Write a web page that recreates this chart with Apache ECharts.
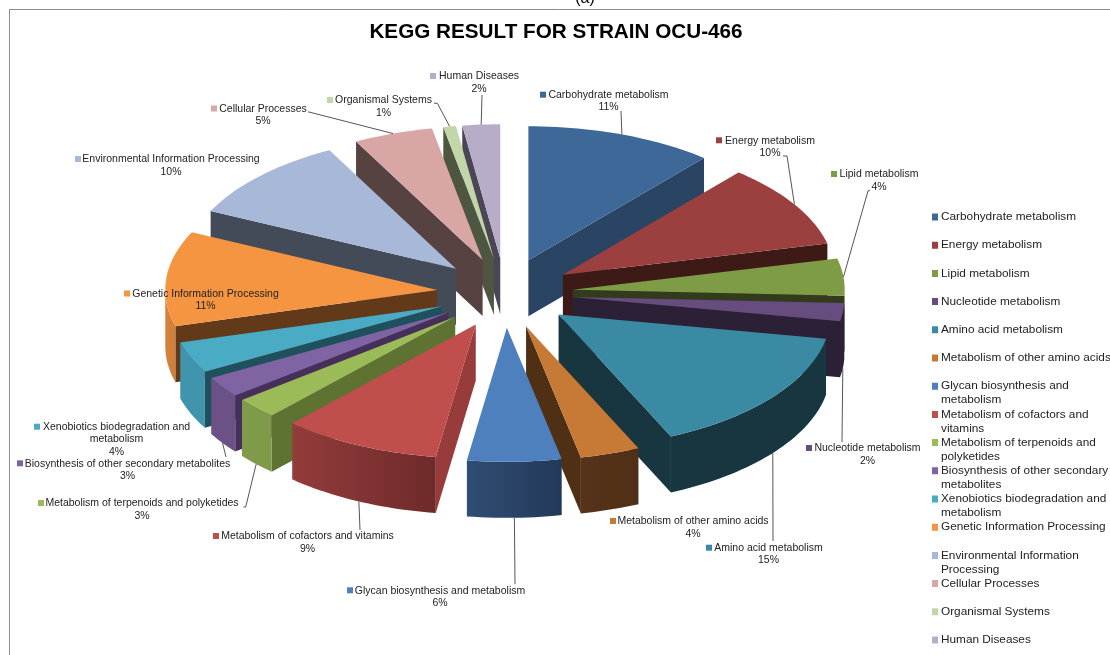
<!DOCTYPE html>
<html><head><meta charset="utf-8">
<style>html,body{margin:0;padding:0;background:#fff;overflow:hidden}#c{width:1110px;height:655px}</style>
<script src="https://cdn.jsdelivr.net/npm/echarts@6/dist/echarts.min.js"></script>
</head><body><div id="c"></div>
<script>
const categories = ['Carbohydrate metabolism','Energy metabolism','Lipid metabolism','Nucleotide metabolism','Amino acid metabolism','Metabolism of other amino acids','Glycan biosynthesis and metabolism','Metabolism of cofactors and vitamins','Metabolism of terpenoids and polyketides','Biosynthesis of other secondary metabolites','Xenobiotics biodegradation and metabolism','Genetic Information Processing','Environmental Information Processing','Cellular Processes','Organismal Systems','Human Diseases'];
// shares; the printed labels are these values rounded
const percents = [11.17,10.08,4.47,2.19,15.31,3.55,5.58,9.44,2.55,2.53,3.78,11.45,10.2,4.72,0.75,2.23];

const topColors = ['#3e6898','#9b403e','#7e9b45','#664c7f','#3a8aa3','#c67a35','#4e80bd','#bf4e4c','#9bbb59','#8063a2','#4aabc5','#f59542','#a8b8d8','#d8a6a5','#c3d6a9','#b8adc9'];
const cutColors = ['#2a4464','#3e1a17','#323b1b','#2b2036','#17363f','#503015','#243a5a','#983c3b','#5e7332','#46305a','#1f505e','#633a19','#444b58','#564240','#4e5641','#4b4655'];
// outer wall gradient, screen left to screen right
const arcColors = [['#2a4464','#2a4464'],['#3e1a17','#3e1a17'],['#323b1b','#323b1b'],['#2b2036','#2b2036'],['#17363f','#17363f'],['#56331a','#4f2f15'],['#2f4d75','#233958'],['#923c3b','#6f2a2a'],['#7f9a48','#7f9a48'],['#6b5186','#6b5186'],['#4094ac','#4094ac'],['#d4823c','#cf7f3a'],['#444b58','#444b58'],['#564240','#564240'],['#4e5641','#4e5641'],['#4b4655','#4b4655']];

const legendLines = ['Carbohydrate metabolism','Energy metabolism','Lipid metabolism','Nucleotide metabolism','Amino acid metabolism','Metabolism of other amino acids','Glycan biosynthesis and\nmetabolism','Metabolism of cofactors and\nvitamins','Metabolism of terpenoids and\npolyketides','Biosynthesis of other secondary\nmetabolites','Xenobiotics biodegradation and\nmetabolism','Genetic Information Processing','Environmental Information\nProcessing','Cellular Processes','Organismal Systems','Human Diseases'];

// label layout: text centre x, first line y, marker x, leader route (pixels, from label to slice), leader attaches to wall bottom?
const labelLayout = [
 {cx:608.5,y:94.7,mx:540,route:[[621,111]],bottom:false},
 {cx:770,y:140.3,mx:716,route:[[783,156],[787,156]],bottom:false},
 {cx:879,y:174,mx:831,route:[[870,190],[868,191]],bottom:false},
 {cx:867.5,y:448,mx:806,route:[[842,442]],bottom:true},
 {cx:768.5,y:547.7,mx:706,route:[[773,541]],bottom:true},
 {cx:693,y:521,mx:610,route:null},
 {cx:440,y:590.3,mx:347,route:[[515,584]],bottom:true},
 {cx:307.5,y:536,mx:213,route:[[360,530]],bottom:true},
 {cx:142,y:503,mx:38,route:[[243.5,507],[245.7,507]],bottom:true},
 {cx:127.5,y:463.3,mx:17,route:[[226,457]],bottom:true},
 {cx:116.5,y:426.7,mx:34,route:null,wrap:'Xenobiotics biodegradation and\nmetabolism'},
 {cx:205.5,y:293.5,mx:124,route:null},
 {cx:171,y:159,mx:75,route:null},
 {cx:263,y:108.5,mx:211,route:[[308,112],[309,112]],bottom:false},
 {cx:383.5,y:100,mx:327,route:[[434,103],[437.5,103.5]],bottom:false},
 {cx:479,y:76,mx:430,route:[[482,95]],bottom:false}
];

const PLANE = {left:97,top:25,width:816,height:536,xMax:1.5,yMax:2};
const EXPLODE_X = 0.25, EXPLODE_Y = 0.26, DEPTH = 0.418;

const total = percents.reduce((a,b)=>a+b,0);
const spans = []; { let c=0; percents.forEach(v=>{ spans.push([c/total*360,(c+v)/total*360]); c+=v; }); }
const rad = d=>d*Math.PI/180;
const midOf = s=>(s[0]+s[1])/2;
const planePoint = (mid,theta,r)=>[EXPLODE_X*Math.sin(rad(mid))+r*Math.sin(rad(theta)), EXPLODE_Y*Math.cos(rad(mid))+r*Math.cos(rad(theta))];

function wall(api,a,b,fill){
  const pa=api.coord(a),pb=api.coord(b),qb=api.coord([b[0],b[1]-DEPTH]),qa=api.coord([a[0],a[1]-DEPTH]);
  return {type:'polygon',shape:{points:[pa,pb,qb,qa]},style:{fill}};
}
function sliceRenderer(i){
  return function(params,api){
    const t0=api.value(0),t1=api.value(1),mid=(t0+t1)/2;
    const tip=planePoint(mid,t0,0);
    const arc=[],ths=[]; const n=Math.max(2,Math.ceil((t1-t0)/1.5));
    for(let k=0;k<=n;k++){ const th=t0+(t1-t0)*k/n; ths.push(th); arc.push(planePoint(mid,th,1)); }
    const children=[];
    const first=arc[0],last=arc[arc.length-1];
    if(first[0]<tip[0]-1e-6) children.push(wall(api,tip,first,cutColors[i]));
    if(last[0]>tip[0]+1e-6) children.push(wall(api,last,tip,cutColors[i]));
    const visible=arc.filter((p,k)=>ths[k]>=90&&ths[k]<=270);
    if(visible.length>1){
      const pts=visible.map(p=>api.coord(p)).concat(visible.slice().reverse().map(p=>api.coord([p[0],p[1]-DEPTH])));
      const fill=new echarts.graphic.LinearGradient(0,0,1,0,[{offset:0,color:arcColors[i][0]},{offset:1,color:arcColors[i][1]}]);
      children.push({type:'polygon',shape:{points:pts},style:{fill}});
    }
    const topPts=[tip].concat(arc).map(p=>api.coord(p));
    children.push({type:'polygon',shape:{points:topPts},style:{fill:topColors[i]}});
    return {type:'group',children};
  };
}
const LABEL_FONT='"Liberation Sans",Arial,sans-serif';
function labelRenderer(params,api){
  const i=params.dataIndex, L=labelLayout[i];
  const name=L.wrap||categories[i];
  const text=name+'\n'+Math.round(percents[i])+'%';
  const children=[];
  if(L.route){
    const m=midOf(spans[i]);
    const p=planePoint(m,m,1);
    const a=api.coord(L.bottom?[p[0],p[1]-DEPTH]:p);
    children.push({type:'polyline',shape:{points:L.route.concat([a])},style:{fill:'none',stroke:'#555',lineWidth:1}});
  }
  children.push({type:'rect',shape:{x:L.mx,y:L.y-3,width:6,height:6},style:{fill:topColors[i]}});
  children.push({type:'text',style:{x:L.cx,y:L.y-5.5,text,fill:'#222',font:'10.5px '+LABEL_FONT,align:'center',verticalAlign:'top',lineHeight:12.2}});
  return {type:'group',children};
}

const sliceSeries=categories.map((name,i)=>{
  const order=spans.map((s,j)=>[Math.cos(rad(midOf(s))),j]).sort((a,b)=>b[0]-a[0]).findIndex(e=>e[1]===i);
  return {type:'custom',name,coordinateSystem:'cartesian2d',xAxisIndex:0,yAxisIndex:0,clip:false,silent:true,z:2+order,
    itemStyle:{color:topColors[i]},data:[[spans[i][0],spans[i][1]]],encode:{x:0,y:1},renderItem:sliceRenderer(i)};
});
const labelSeries={type:'custom',name:'labels',coordinateSystem:'cartesian2d',clip:false,silent:true,z:40,
  data:spans.map(s=>[s[0],s[1]]),encode:{x:0,y:1},renderItem:labelRenderer};

const chart=echarts.init(document.getElementById('c'),null,{renderer:'canvas'});
const legendMap={}; categories.forEach((c,i)=>legendMap[c]=legendLines[i]);
chart.setOption({
  animation:false,backgroundColor:'#fff',
  title:{text:'KEGG RESULT FOR STRAIN OCU-466',left:551,top:15,textAlign:'center',textStyle:{fontFamily:LABEL_FONT,fontSize:20.7,fontWeight:'bold',color:'#000',lineHeight:24}},
  grid:{left:PLANE.left,top:PLANE.top,width:PLANE.width,height:PLANE.height},
  xAxis:{type:'value',min:-PLANE.xMax,max:PLANE.xMax,show:false},
  yAxis:{type:'value',min:-PLANE.yMax,max:PLANE.yMax,show:false},
  legend:{data:categories,orient:'vertical',left:932,top:210,height:480,padding:0,itemWidth:6,itemHeight:28,itemGap:0.2,selectedMode:false,
    icon:'path://M0 0H.01V.01H0ZM0 3.5H7V10.5H0ZM0 27.99H.01V28H0Z',symbolKeepAspect:false,
    formatter:n=>{const t=legendMap[n];return t.indexOf('\n')<0?t+'\n ':t;},
    textStyle:{fontFamily:LABEL_FONT,fontSize:11.8,lineHeight:14,color:'#222',padding:[0,0,0,-2]}},
  graphic:[
    {type:'line',shape:{x1:9,y1:9.5,x2:1110,y2:9.5},style:{stroke:'#8c8c8c',lineWidth:1}},
    {type:'line',shape:{x1:9.5,y1:9,x2:9.5,y2:655},style:{stroke:'#8c8c8c',lineWidth:1}},
    {type:'text',style:{x:585,y:-9,text:'(a)',font:'16px '+LABEL_FONT,fill:'#000',align:'center'}}
  ],
  series:sliceSeries.concat([labelSeries])
});
</script></body></html>
